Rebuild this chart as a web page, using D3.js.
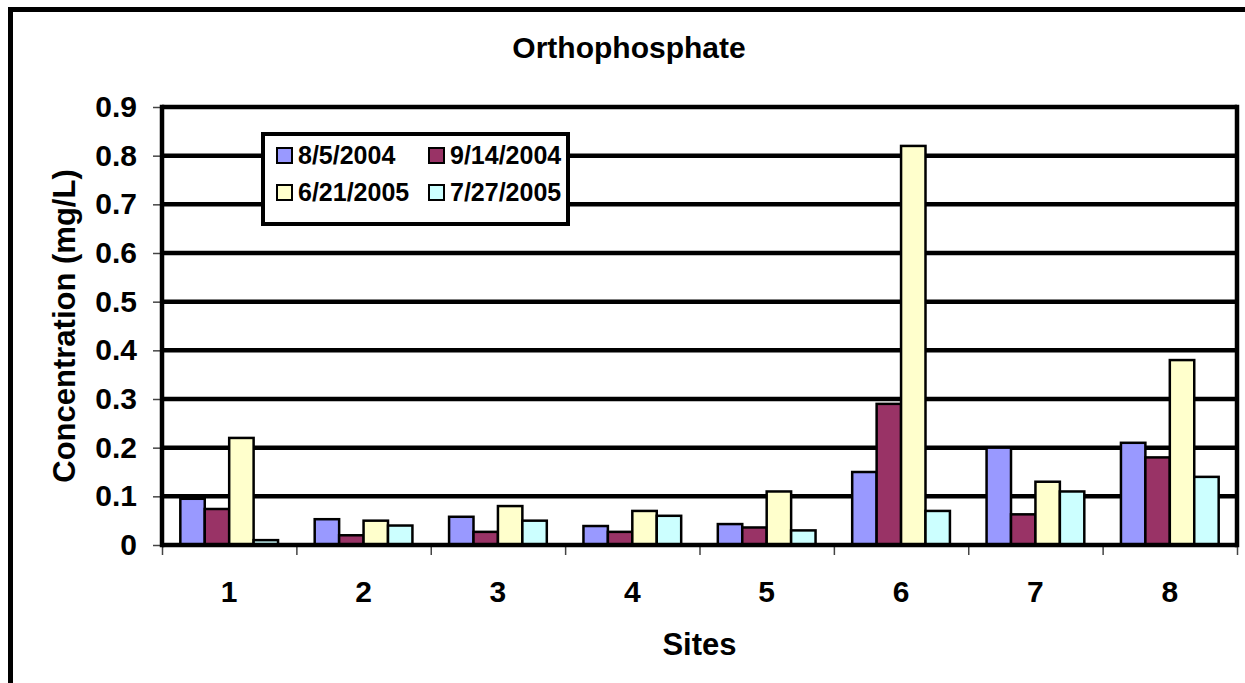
<!DOCTYPE html>
<html>
<head>
<meta charset="utf-8">
<script src="https://cdn.jsdelivr.net/npm/d3@7"></script>
<style>
  body { margin: 0; background: #fff; }
  text { font-family: "Liberation Sans", Arial, sans-serif; font-weight: bold; fill: #000; }
</style>
</head>
<body>
<div id="chart"></div>
<script>
// values
const sites = ["1", "2", "3", "4", "5", "6", "7", "8"]
const dates = ["8/5/2004", "9/14/2004", "6/21/2005", "7/27/2005"]
const aug2004 = [0.095, 0.053, 0.058, 0.039, 0.043, 0.15, 0.2, 0.21]
const sep2004 = [0.074, 0.02, 0.027, 0.027, 0.036, 0.29, 0.063, 0.18]
const jun2005 = [0.22, 0.05, 0.08, 0.07, 0.11, 0.82, 0.13, 0.38]
const jul2005 = [0.01, 0.04, 0.05, 0.06, 0.03, 0.07, 0.11, 0.14]
const yTicks = [0, 0.1, 0.2, 0.3, 0.4, 0.5, 0.6, 0.7, 0.8, 0.9]
const colors = ["#9999ff", "#993366", "#ffffcc", "#ccffff"]

const series = [aug2004, sep2004, jun2005, jul2005]

const w = 1245, h = 683
const pLeft = 162, pRight = 1237, pTop = 107, pBottom = 545

const svg = d3.select("#chart").append("svg")
  .attr("width", w)
  .attr("height", h)

// outer chart frame (runs off the right and bottom of the picture)
svg.append("rect")
  .attr("x", 10.5).attr("y", 9.5)
  .attr("width", 2000).attr("height", 2000)
  .attr("fill", "none").attr("stroke", "#000").attr("stroke-width", 5)

const x0 = d3.scaleBand().domain(sites).range([pLeft, pRight]).padding(0)
const bw = x0.bandwidth()
const gap = bw * 1.5 / 5.5
const x1 = d3.scaleBand().domain(d3.range(4)).range([gap / 2, bw - gap / 2]).padding(0)
const xLin = d3.scaleLinear().domain([0, sites.length]).range([pLeft, pRight])

const y = d3.scaleLinear().domain([0, 0.9]).range([pBottom, pTop])

// gridlines
svg.append("g").selectAll("line")
  .data(yTicks.slice(1))
  .enter().append("line")
  .attr("x1", pLeft).attr("x2", pRight)
  .attr("y1", d => y(d)).attr("y2", d => y(d))
  .attr("stroke", "#000").attr("stroke-width", 4.5)

// y axis
const yAxis = d3.axisLeft(y)
  .tickValues(yTicks)
  .tickFormat(d => d === 0 ? "0" : d.toFixed(1))
  .tickSize(9)
  .tickPadding(16)
const gy = svg.append("g").attr("transform", "translate(" + pLeft + ",0)").call(yAxis)
gy.select(".domain").remove()
gy.selectAll("line").attr("stroke", "#444").attr("stroke-width", 1.5)
gy.selectAll("text").style("font-size", "30px").attr("font-family", null)

// x axis boundary ticks
const gxt = svg.append("g").attr("transform", "translate(0," + pBottom + ")")
  .call(d3.axisBottom(xLin).tickValues(d3.range(sites.length + 1)).tickFormat("").tickSize(10))
gxt.select(".domain").remove()
gxt.selectAll("line").attr("stroke", "#444").attr("stroke-width", 1.5)

// x labels
const gx = svg.append("g").attr("transform", "translate(0," + pBottom + ")")
  .call(d3.axisBottom(x0).tickSize(0).tickPadding(36))
gx.select(".domain").remove()
gx.selectAll("text").style("font-size", "30px").attr("font-family", null)

// bars
svg.append("g").selectAll("g")
  .data(sites)
  .enter().append("g")
  .attr("transform", d => "translate(" + x0(d) + ",0)")
  .selectAll("rect")
  .data((d, i) => series.map((s, k) => ({ k: k, v: s[i] })))
  .enter().append("rect")
  .attr("x", d => x1(d.k))
  .attr("width", x1.bandwidth())
  .attr("y", d => y(d.v))
  .attr("height", d => pBottom - y(d.v))
  .attr("fill", d => colors[d.k])
  .attr("stroke", "#000").attr("stroke-width", 2.5)

// plot border
svg.append("line").attr("x1", pLeft).attr("x2", pLeft).attr("y1", pTop - 2.25).attr("y2", pBottom + 2.25)
  .attr("stroke", "#000").attr("stroke-width", 4.5)
svg.append("line").attr("x1", pRight).attr("x2", pRight).attr("y1", pTop - 2.25).attr("y2", pBottom + 2.25)
  .attr("stroke", "#000").attr("stroke-width", 4.5)
svg.append("line").attr("x1", pLeft).attr("x2", pRight).attr("y1", pBottom).attr("y2", pBottom)
  .attr("stroke", "#000").attr("stroke-width", 4.5)

// titles
svg.append("text").attr("x", 629).attr("y", 58).attr("text-anchor", "middle")
  .style("font-size", "30px").text("Orthophosphate")
svg.append("text").attr("x", (pLeft + pRight) / 2).attr("y", 655).attr("text-anchor", "middle")
  .style("font-size", "31px").text("Sites")
svg.append("text").attr("transform", "translate(75," + (pTop + pBottom) / 2 + ") rotate(-90)")
  .attr("text-anchor", "middle")
  .style("font-size", "31px").text("Concentration (mg/L)")

// legend
const lg = svg.append("g")
lg.append("rect").attr("x", 263).attr("y", 134).attr("width", 305).attr("height", 90)
  .attr("fill", "#fff").attr("stroke", "#000").attr("stroke-width", 4)
const item = lg.selectAll("g.item")
  .data(dates)
  .enter().append("g")
  .attr("class", "item")
  .attr("transform", (d, i) => "translate(" + (i % 2 === 0 ? 277 : 429) + "," + (i < 2 ? 148 : 185) + ")")
item.append("rect").attr("width", 15).attr("height", 15)
  .attr("fill", (d, i) => colors[i]).attr("stroke", "#000").attr("stroke-width", 2)
item.append("text").attr("x", 21).attr("y", 16)
  .style("font-size", "25px").text(d => d)
</script>
</body>
</html>
